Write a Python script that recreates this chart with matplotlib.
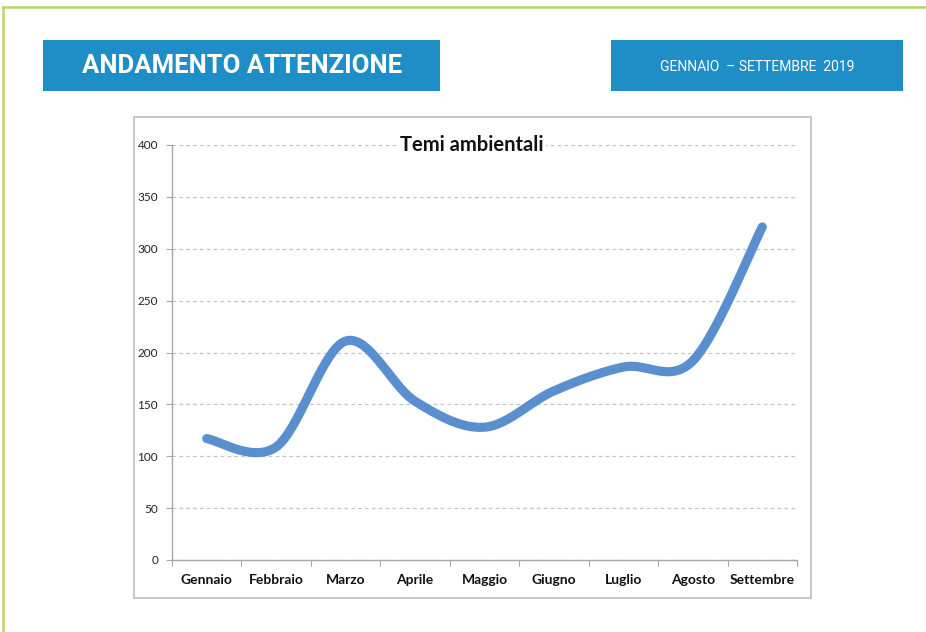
import numpy as np
import matplotlib
matplotlib.use("Agg")
import matplotlib.pyplot as plt
from matplotlib.patches import Rectangle
from matplotlib.lines import Line2D

months = ["Gennaio", "Febbraio", "Marzo", "Aprile", "Maggio",
          "Giugno", "Luglio", "Agosto", "Settembre"]
values = [117, 109, 211, 153, 128, 163, 186, 192, 321]
y_ticks = [0, 50, 100, 150, 200, 250, 300, 350, 400]

title_text = "ANDAMENTO ATTENZIONE"
period_text = "GENNAIO  – SETTEMBRE  2019"
chart_title = "Temi ambientali"

W, H = 926, 632
fig = plt.figure(figsize=(W / 100, H / 100), dpi=100)
fig.patch.set_facecolor("white")


def fx(px):
    return px / W


def fy(py):
    return 1 - py / H


def smooth(xs, ys, n=40):
    """Cubic Bezier smoothing through every point (Catmull-Rom tangents)."""
    xs = np.asarray(xs, float)
    ys = np.asarray(ys, float)
    px = np.concatenate([[xs[0]], xs, [xs[-1]]])
    py = np.concatenate([[ys[0]], ys, [ys[-1]]])
    out_x, out_y = [], []
    t = np.linspace(0, 1, n)
    for i in range(1, len(px) - 2):
        p0 = np.array([px[i], py[i]])
        p3 = np.array([px[i + 1], py[i + 1]])
        p1 = p0 + (np.array([px[i + 1], py[i + 1]]) - np.array([px[i - 1], py[i - 1]])) / 6
        p2 = p3 - (np.array([px[i + 2], py[i + 2]]) - np.array([px[i], py[i]])) / 6
        b = ((1 - t) ** 3)[:, None] * p0 + (3 * t * (1 - t) ** 2)[:, None] * p1 \
            + (3 * t ** 2 * (1 - t))[:, None] * p2 + (t ** 3)[:, None] * p3
        out_x.extend(b[:, 0])
        out_y.extend(b[:, 1])
    return np.array(out_x), np.array(out_y)


# Page frame
frame_col = "#B9D56E"
fig.add_artist(Line2D([fx(3), fx(W)], [fy(7), fy(7)], color=frame_col, lw=1.8,
                      transform=fig.transFigure))
fig.add_artist(Line2D([fx(3), fx(3)], [fy(7), fy(H)], color=frame_col, lw=1.8,
                      transform=fig.transFigure))

# Header banners
banner_col = "#1F8DC6"
fig.add_artist(Rectangle((fx(43), fy(91)), fx(440) - fx(43), fy(40) - fy(91),
                         transform=fig.transFigure, facecolor=banner_col,
                         edgecolor="none"))
fig.text(fx(242), fy(66), title_text, color="white", fontsize=18.5,
         fontweight="bold", family="Roboto",
         ha="center", va="center")

fig.add_artist(Rectangle((fx(611), fy(91)), fx(903) - fx(611), fy(40) - fy(91),
                         transform=fig.transFigure, facecolor=banner_col,
                         edgecolor="none"))
fig.text(fx(757), fy(67), period_text, color="white", fontsize=10,
         family="Roboto", ha="center", va="center")

# Chart box, kept behind the axes
fig.add_artist(Rectangle((fx(134), fy(598)), fx(811) - fx(134), fy(117) - fy(598),
                         transform=fig.transFigure, facecolor="none",
                         edgecolor="#BDBDBD", lw=1.2, zorder=-1))

ax = fig.add_axes([fx(172), fy(560), fx(797) - fx(172), fy(145) - fy(560)])
ax.set_facecolor("none")
ax.set_xlim(0, len(months))
ax.set_ylim(0, 400)

xc = np.arange(len(months)) + 0.5
sx, sy = smooth(xc, values)
ax.plot(sx, sy, color="#5A8FCF", lw=6.6, solid_capstyle="round",
        solid_joinstyle="round", zorder=3, clip_on=False)

ax.set_yticks(y_ticks)
ax.set_yticklabels([str(v) for v in y_ticks], fontsize=8.5, color="#222222",
                   family="Lato")
ax.set_xticks(np.arange(len(months) + 1))
ax.set_xticklabels([])
ax.set_xticks(xc, minor=True)
ax.set_xticklabels(months, minor=True, fontsize=10, fontweight="bold",
                   color="#111111", family="Lato")
ax.tick_params(axis="x", which="minor", length=0, pad=10)
ax.tick_params(axis="x", which="major", length=4, color="#A6A6A6", direction="out")
ax.tick_params(axis="y", length=4, color="#A6A6A6", pad=6)

for s in ["top", "right"]:
    ax.spines[s].set_visible(False)
for s in ["left", "bottom"]:
    ax.spines[s].set_color("#A6A6A6")
    ax.spines[s].set_linewidth(1.0)

ax.yaxis.grid(True, color="#C4C4C4", linestyle=(0, (3, 2.5)), lw=0.9)
ax.set_axisbelow(True)

fig.text(fx(472), fy(145), chart_title, fontsize=14.5, fontweight="bold",
         family="Lato", color="#111111", ha="center", va="center",
         bbox=dict(facecolor="white", edgecolor="none", pad=1.5))

fig.savefig("out.png", dpi=100)
